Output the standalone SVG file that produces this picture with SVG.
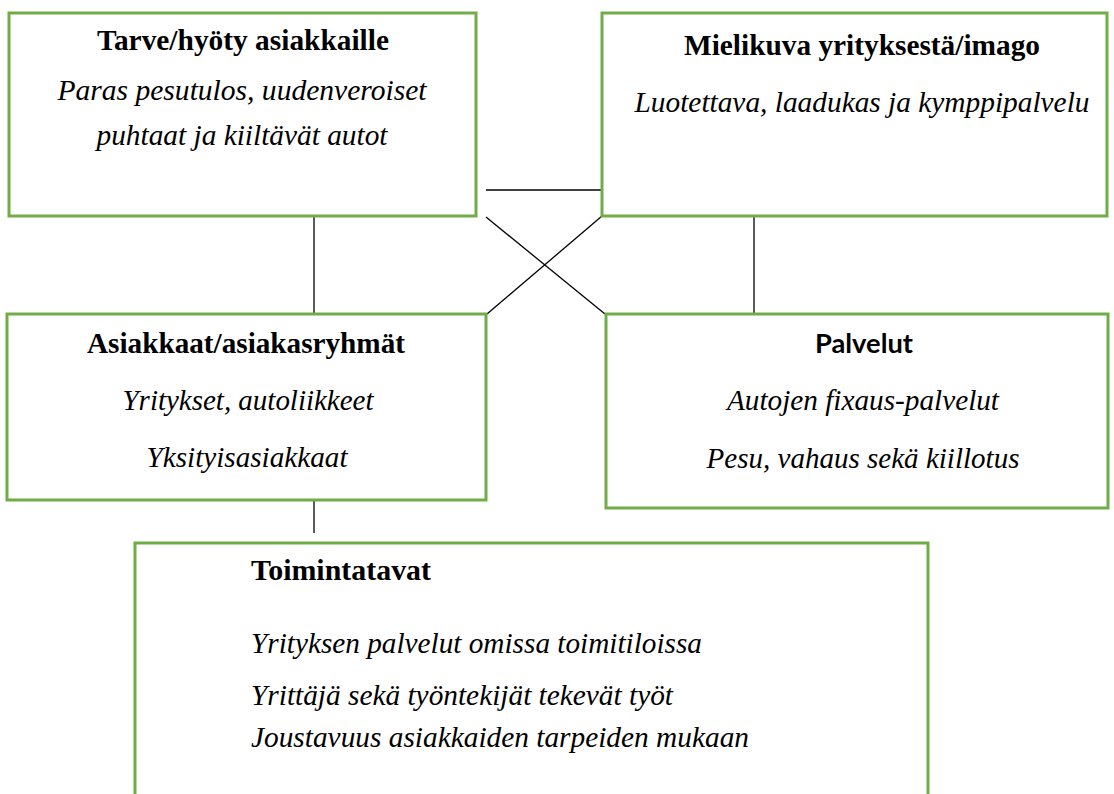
<svg xmlns="http://www.w3.org/2000/svg" width="1114" height="794" viewBox="0 0 1114 794">
<style>
.box{fill:#fff;stroke:#70AD47;stroke-width:3}
.ln{stroke:#000;stroke-width:1.3;fill:none}
.t{font-family:'Liberation Serif','Times New Roman',serif;font-weight:bold;font-size:29.5px;fill:#000}
.i{font-family:'Liberation Serif','Times New Roman',serif;font-style:italic;font-size:29.5px;fill:#000}
.s{font-family:Lato,'Open Sans',sans-serif;font-weight:bold;font-size:27px;fill:#000}
</style>
<rect width="1114" height="794" fill="#fff"/>
<g id="connectors">
<line class="ln" x1="314" y1="216" x2="314" y2="314"/>
<line class="ln" x1="486" y1="190" x2="602" y2="190"/>
<line class="ln" x1="486" y1="217" x2="605" y2="314"/>
<line class="ln" x1="602" y1="216" x2="487" y2="314"/>
<line class="ln" x1="754" y1="216" x2="754" y2="314"/>
<line class="ln" x1="314" y1="500" x2="314" y2="533"/>
</g>
<g id="tarve">
<rect class="box" x="9" y="13" width="467" height="203"/>
<text class="t" x="243" y="50" text-anchor="middle" textLength="292" lengthAdjust="spacingAndGlyphs">Tarve/hyöty asiakkaille</text>
<text class="i" x="242" y="100" text-anchor="middle" textLength="369" lengthAdjust="spacingAndGlyphs">Paras pesutulos, uudenveroiset</text>
<text class="i" x="242" y="145" text-anchor="middle" textLength="291" lengthAdjust="spacingAndGlyphs">puhtaat ja kiiltävät autot</text>
</g>
<g id="mielikuva">
<rect class="box" x="602" y="13" width="505" height="203"/>
<text class="t" x="862" y="55" text-anchor="middle" textLength="356" lengthAdjust="spacingAndGlyphs">Mielikuva yrityksestä/imago</text>
<text class="i" x="862" y="112" text-anchor="middle" textLength="455" lengthAdjust="spacingAndGlyphs">Luotettava, laadukas ja kymppipalvelu</text>
</g>
<g id="asiakkaat">
<rect class="box" x="7" y="314" width="479" height="186"/>
<text class="t" x="246" y="353" text-anchor="middle" textLength="318" lengthAdjust="spacingAndGlyphs">Asiakkaat/asiakasryhmät</text>
<text class="i" x="248" y="410" text-anchor="middle" textLength="251" lengthAdjust="spacingAndGlyphs">Yritykset, autoliikkeet</text>
<text class="i" x="247" y="467" text-anchor="middle" textLength="201" lengthAdjust="spacingAndGlyphs">Yksityisasiakkaat</text>
</g>
<g id="palvelut">
<rect class="box" x="606" y="314" width="502" height="194"/>
<text class="s" x="864" y="353" text-anchor="middle" textLength="98" lengthAdjust="spacingAndGlyphs">Palvelut</text>
<text class="i" x="863" y="410" text-anchor="middle" textLength="272" lengthAdjust="spacingAndGlyphs">Autojen fixaus-palvelut</text>
<text class="i" x="863" y="468" text-anchor="middle" textLength="313" lengthAdjust="spacingAndGlyphs">Pesu, vahaus sekä kiillotus</text>
</g>
<g id="toimintatavat">
<rect class="box" x="135" y="543" width="793" height="270"/>
<text class="t" x="251" y="580" textLength="180" lengthAdjust="spacingAndGlyphs">Toimintatavat</text>
<text class="i" x="251" y="653" textLength="451" lengthAdjust="spacingAndGlyphs">Yrityksen palvelut omissa toimitiloissa</text>
<text class="i" x="251" y="705" textLength="422" lengthAdjust="spacingAndGlyphs">Yrittäjä sekä työntekijät tekevät työt</text>
<text class="i" x="251" y="747" textLength="498" lengthAdjust="spacingAndGlyphs">Joustavuus asiakkaiden tarpeiden mukaan</text>
</g>
</svg>
